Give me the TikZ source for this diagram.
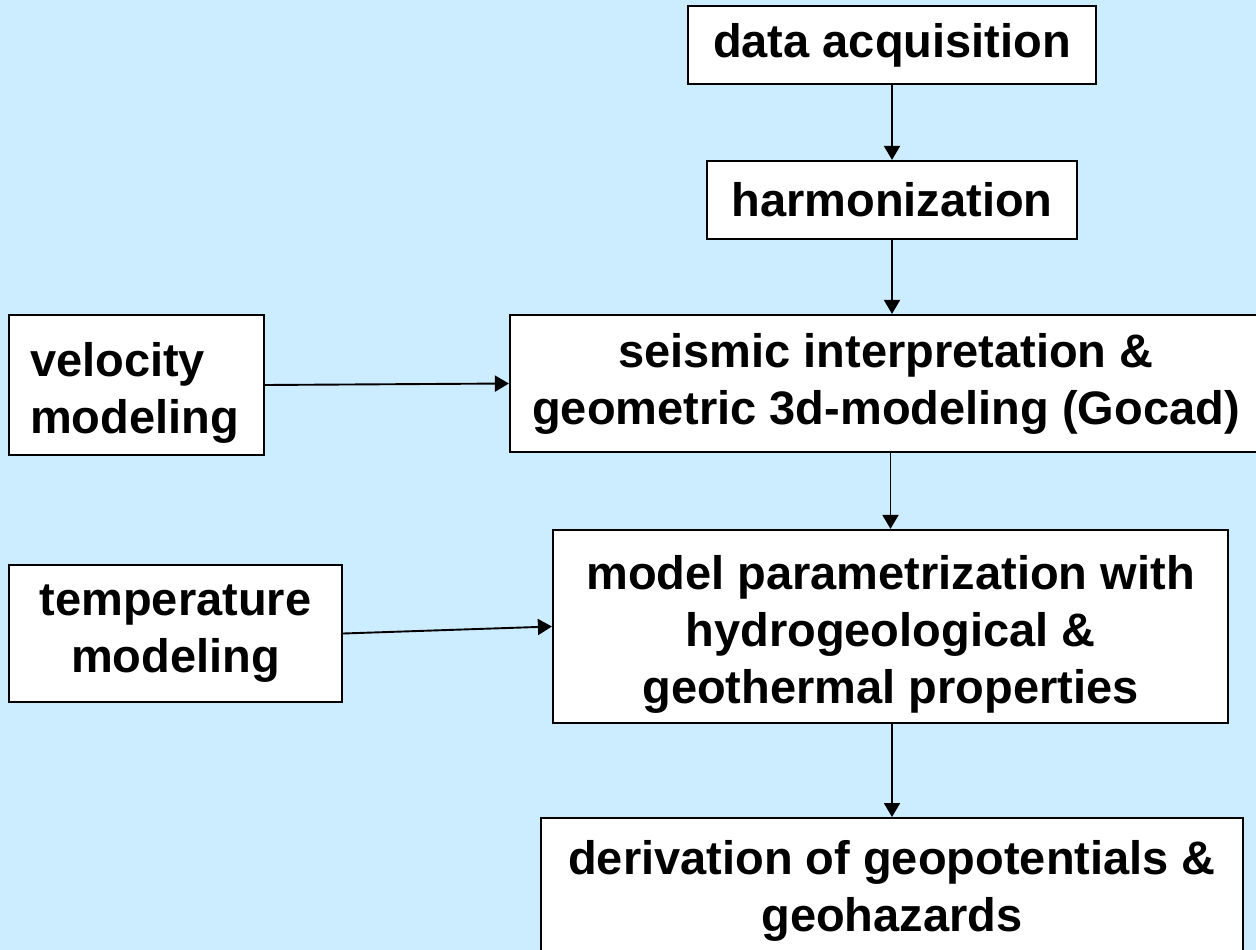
\documentclass[tikz,border=0pt]{standalone}
\usepackage{fontspec}
\setmainfont{Liberation Sans}
\usetikzlibrary{arrows.meta}
\definecolor{bgblue}{RGB}{204,236,255}
\newcommand{\toppad}{\rule{0pt}{50pt}}
\tikzset{
  stagebox/.style={draw=black, fill=white, line width=2.2pt, inner sep=0pt,
    align=center, font=\fontsize{47}{57}\selectfont\bfseries, text=black},
  flow/.style={line width=1.9pt, -{Triangle[length=14pt,width=16pt]}},
}
\begin{document}
\begin{tikzpicture}[x=1pt, y=-1pt]
  \useasboundingbox (0,0) rectangle (1256,950);
  \clip (0,0) rectangle (1256,950);
  \fill[bgblue] (0,0) rectangle (1256,950);

  % main chain
  \node[stagebox, minimum width=408pt, minimum height=78pt] (data) at (892,45) {data acquisition};
  \node[stagebox, minimum width=370pt, minimum height=78pt] (harm) at (892,200) {harmonization};
  \node[stagebox, minimum width=752pt, minimum height=137pt] (seis) at (886,383.5)
    {seismic interpretation \&\\geometric 3d-modeling (Gocad)};
  \node[stagebox, minimum width=675pt, minimum height=193pt] (model) at (890.5,626.5)
    {\toppad model parametrization with\\hydrogeological \&\\geothermal properties};
  \node[stagebox, minimum width=702pt, inner ysep=22pt, anchor=north] (deriv) at (892,817)
    {derivation of geopotentials \&\\geohazards};

  % side inputs
  \node[stagebox, minimum width=255pt, minimum height=140pt, text width=213pt,
        inner xsep=21pt, align=left] (vel) at (136.5,385) {\toppad velocity\\modeling};
  \node[stagebox, minimum width=333pt, minimum height=137pt] (temp) at (175.5,633.5)
    {temperature\\modeling};

  % connectors
  \draw[flow] (data.south) -- (harm.north);
  \draw[flow] (harm.south) -- (harm.south |- seis.north);
  \draw[flow] (vel.east) -- (seis.west);
  \draw[flow] (model.north |- seis.south) -- (model.north);
  \draw[flow] (temp.east) -- (model.west);
  \draw[flow] (deriv.north |- model.south) -- (deriv.north);
\end{tikzpicture}
\end{document}
